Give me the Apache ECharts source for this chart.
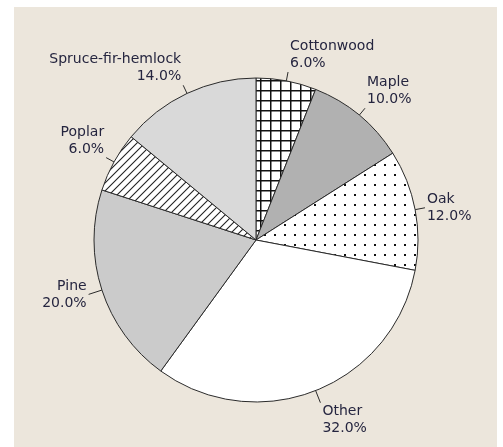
<!DOCTYPE html>
<html>
<head>
<meta charset="utf-8">
<script src="https://cdn.jsdelivr.net/npm/echarts@6/dist/echarts.min.js"></script>
<style>
  html, body { margin: 0; padding: 0; background: #ffffff; }
  #panel { position: absolute; left: 14px; top: 7px; width: 483px; height: 440px; background: #ece6dc; }
  #chart { position: absolute; left: 0; top: 0; width: 503px; height: 447px; }
</style>
</head>
<body>
<div id="panel"></div>
<div id="chart"></div>
<script>
// ---- data ----
const categories = ['Cottonwood', 'Maple', 'Oak', 'Other', 'Pine', 'Poplar', 'Spruce-fir-hemlock'];
const shares = [6, 10, 12, 32, 20, 6, 14];

// ---- styles (per slice) ----
const fillKinds = ['grid', '#b1b1b1', 'dots', '#ffffff', '#cbcbcb', 'hatch', '#d9d9d9'];
const labelPlace = ['above', 'above', 'middle', 'below', 'middle', 'above', 'above'];
const lineLengths = [9, 9, 10, 13, 14, 9, 9];

function makePattern(kind) {
  const c = document.createElement('canvas');
  const ctx = c.getContext('2d');
  if (kind === 'grid') {
    c.width = 10; c.height = 10;
    ctx.fillStyle = '#ffffff'; ctx.fillRect(0, 0, 10, 10);
    ctx.fillStyle = '#111111';
    ctx.fillRect(0, 0, 1.5, 10);
    ctx.fillRect(0, 0, 10, 1.5);
  } else if (kind === 'dots') {
    c.width = 10; c.height = 10;
    ctx.fillStyle = '#ffffff'; ctx.fillRect(0, 0, 10, 10);
    ctx.fillStyle = '#111111';
    ctx.fillRect(4, 4, 2, 2);
  } else if (kind === 'hatch') {
    c.width = 8; c.height = 8;
    ctx.fillStyle = '#ffffff'; ctx.fillRect(0, 0, 8, 8);
    ctx.strokeStyle = '#222222'; ctx.lineWidth = 1.1;
    ctx.beginPath();
    ctx.moveTo(-1, 9); ctx.lineTo(9, -1);
    ctx.moveTo(-1, 1); ctx.lineTo(1, -1);
    ctx.moveTo(7, 9); ctx.lineTo(9, 7);
    ctx.stroke();
  }
  return { image: c, repeat: 'repeat' };
}

const seriesData = categories.map((name, i) => {
  const k = fillKinds[i];
  const color = k.charAt(0) === '#' ? k : makePattern(k);
  return {
    name: name,
    value: shares[i],
    itemStyle: { color: color },
    labelLine: { length: lineLengths[i] }
  };
});

function labelText(p) {
  const txt = p.name + '\n' + p.percent.toFixed(1) + '%';
  const place = labelPlace[p.dataIndex];
  if (place === 'above') return txt + '\n \n ';
  if (place === 'below') return ' \n \n' + txt;
  return txt;
}

const chart = echarts.init(document.getElementById('chart'), null, { renderer: 'canvas' });
chart.setOption({
  animation: false,
  backgroundColor: 'transparent',
  series: [{
    type: 'pie',
    center: [256, 240],
    radius: 162,
    startAngle: 90,
    clockwise: true,
    avoidLabelOverlap: false,
    silent: true,
    data: seriesData,
    itemStyle: { borderColor: '#2a2a2a', borderWidth: 1 },
    labelLayout: { hideOverlap: false, moveOverlap: null },
    label: {
      show: true,
      position: 'outside',
      formatter: labelText,
      fontFamily: 'DejaVu Sans',
      fontSize: 14,
      lineHeight: 17,
      color: '#25253f',
      distanceToLabelLine: 2
    },
    labelLine: {
      show: true,
      length: 9,
      length2: 0,
      smooth: false,
      lineStyle: { color: '#2a2a2a', width: 1 }
    },
    emphasis: { disabled: true }
  }]
});
</script>
</body>
</html>
